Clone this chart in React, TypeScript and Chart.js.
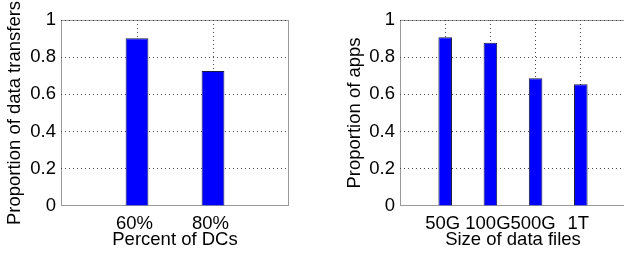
import React, { useEffect, useRef } from "react";
import { Chart, registerables } from "chart.js";

Chart.register(...registerables);

// ---- data ----
const leftCategories = ["60%", "80%"];
const leftValues = [0.902, 0.726];
const leftXTitle = "Percent of DCs";
const leftYTitle = "Proportion of data transfers";

const rightCategories = ["50G", "100G", "500G", "1T"];
const rightValues = [0.907, 0.878, 0.687, 0.655];
const rightXTitle = "Size of data files";
const rightYTitle = "Proportion of apps";

const yTickValues = [0, 0.2, 0.4, 0.6, 0.8, 1];
const yTickLabels = ["0", "0.2", "0.4", "0.6", "0.8", "1"];

const FONT = { family: "'Liberation Sans', Arial, Helvetica, sans-serif", size: 18.5 };
const GRID_COLOR = "#4a4a4a";
const BOX_COLOR = "#9a9a9a";

const boxPlugin = {
  id: "matlabBox",
  beforeDraw(chart: any) {
    const { ctx, chartArea } = chart;
    const l = Math.round(chartArea.left) + 0.5;
    const t = Math.round(chartArea.top) + 0.5;
    const r = Math.round(chartArea.right) - 0.5;
    const b = Math.round(chartArea.bottom) - 0.5;
    ctx.save();
    ctx.fillStyle = "#ffffff";
    ctx.fillRect(0, 0, chart.width, chart.height);
    ctx.strokeStyle = BOX_COLOR;
    ctx.lineWidth = 1;
    ctx.strokeRect(l, t, r - l, b - t);
    ctx.restore();
  },
};

function buildConfig(
  categories: string[],
  values: number[],
  xTitle: string,
  yTitle: string,
  geom: { padLeft: number; padRight: number; yWidth: number }
): any {
  const xMax = categories.length + 1;
  return {
    type: "bar",
    data: {
      datasets: [
        {
          data: values.map((v, i) => ({ x: i + 1, y: v })),
          backgroundColor: "#0000ff",
          borderColor: "#1a1a40",
          borderWidth: 1,
          barPercentage: 0.3,
          categoryPercentage: 1,
        },
      ],
    },
    options: {
      responsive: false,
      animation: false,
      events: [],
      layout: { padding: { left: geom.padLeft, right: geom.padRight, top: 20, bottom: 0 } },
      plugins: { legend: { display: false }, tooltip: { enabled: false } },
      scales: {
        x: {
          type: "linear",
          offset: false,
          min: 0,
          max: xMax,
          afterFit: (s: any) => {
            s.height = 51;
          },
          ticks: {
            stepSize: 1,
            autoSkip: false,
            maxRotation: 0,
            padding: 7,
            labelOffset: -2.5,
            color: "#000",
            font: FONT,
            callback: (v: any) => categories[v - 1] ?? "",
          },
          grid: {
            offset: false,
            drawTicks: false,
            lineWidth: 1,
            color: (c: any) =>
              c.tick && (c.tick.value === 0 || c.tick.value === xMax) ? "rgba(0,0,0,0)" : GRID_COLOR,
          },
          border: { display: false, dash: [1, 3] },
          title: {
            display: true,
            text: xTitle,
            color: "#000",
            font: FONT,
            padding: { top: 0, bottom: 6 },
          },
        },
        y: {
          min: 0,
          max: 1,
          afterBuildTicks: (s: any) => {
            s.ticks = yTickValues.map((v) => ({ value: v }));
          },
          afterFit: (s: any) => {
            s.width = geom.yWidth;
          },
          ticks: {
            padding: 5,
            color: "#000",
            font: FONT,
            callback: (_v: any, i: number) => yTickLabels[i],
          },
          grid: {
            drawTicks: false,
            lineWidth: 1,
            color: (c: any) => (c.tick && c.tick.value === 0 ? "rgba(0,0,0,0)" : GRID_COLOR),
          },
          border: { display: false, dash: [1, 3] },
          title: {
            display: true,
            text: yTitle,
            color: "#000",
            font: FONT,
            padding: { top: 0, bottom: 0 },
          },
        },
      },
    },
    plugins: [boxPlugin],
  };
}

function BarPanel(props: {
  categories: string[];
  values: number[];
  xTitle: string;
  yTitle: string;
  width: number;
  left: number;
  geom: { padLeft: number; padRight: number; yWidth: number };
}) {
  const ref = useRef<HTMLCanvasElement | null>(null);
  useEffect(() => {
    if (!ref.current) return;
    const chart = new Chart(
      ref.current,
      buildConfig(props.categories, props.values, props.xTitle, props.yTitle, props.geom)
    );
    return () => chart.destroy();
  }, []);
  return (
    <canvas
      ref={ref}
      width={props.width}
      height={257}
      style={{ position: "absolute", left: props.left, top: 0, width: props.width, height: 257 }}
    />
  );
}

export default function App() {
  return (
    <div
      style={{
        position: "fixed",
        left: 0,
        top: 0,
        width: 624,
        height: 257,
        overflow: "hidden",
        background: "#fff",
      }}
    >
      <BarPanel
        categories={leftCategories}
        values={leftValues}
        xTitle={leftXTitle}
        yTitle={leftYTitle}
        width={312}
        left={0}
        geom={{ padLeft: 4, padRight: 23, yWidth: 57 }}
      />
      <BarPanel
        categories={rightCategories}
        values={rightValues}
        xTitle={rightXTitle}
        yTitle={rightYTitle}
        width={328}
        left={312}
        geom={{ padLeft: 32, padRight: 14, yWidth: 56 }}
      />
    </div>
  );
}
